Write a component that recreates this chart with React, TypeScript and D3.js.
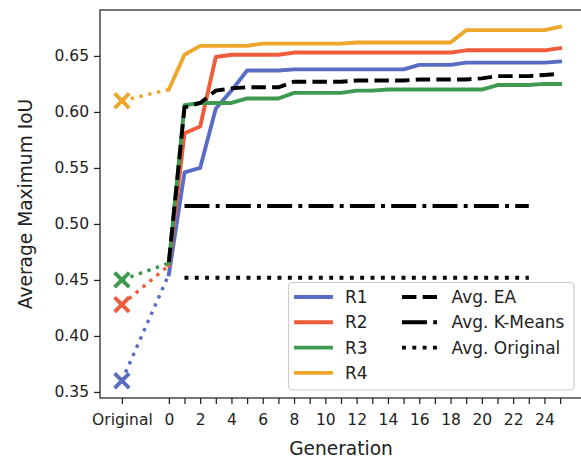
import React, { useEffect, useRef } from 'react';
import * as d3 from 'd3';

// generations on the x axis; "Original" sits at -3
const generations = [0, 1, 2, 3, 4, 5, 6, 7, 8, 9, 10, 11, 12, 13, 14, 15, 16, 17, 18, 19, 20, 21, 22, 23, 24, 25];
const r1Values = [0.455, 0.546, 0.550, 0.603, 0.619, 0.637, 0.637, 0.637, 0.638, 0.638, 0.638, 0.638, 0.638, 0.638, 0.638, 0.638, 0.642, 0.642, 0.642, 0.644, 0.644, 0.644, 0.644, 0.644, 0.644, 0.645];
const r2Values = [0.463, 0.581, 0.587, 0.649, 0.651, 0.651, 0.651, 0.651, 0.653, 0.653, 0.653, 0.653, 0.653, 0.653, 0.653, 0.653, 0.653, 0.653, 0.653, 0.655, 0.655, 0.655, 0.655, 0.655, 0.655, 0.657];
const r3Values = [0.465, 0.606, 0.608, 0.608, 0.608, 0.612, 0.612, 0.612, 0.617, 0.617, 0.617, 0.617, 0.619, 0.619, 0.620, 0.620, 0.620, 0.620, 0.620, 0.620, 0.620, 0.624, 0.624, 0.624, 0.625, 0.625];
const r4Values = [0.620, 0.651, 0.659, 0.659, 0.659, 0.659, 0.661, 0.661, 0.661, 0.661, 0.661, 0.661, 0.662, 0.662, 0.662, 0.662, 0.662, 0.662, 0.662, 0.673, 0.673, 0.673, 0.673, 0.673, 0.673, 0.676];
const eaAvgValues = [0.466, 0.604, 0.608, 0.619, 0.621, 0.622, 0.622, 0.622, 0.627, 0.627, 0.627, 0.627, 0.628, 0.628, 0.628, 0.628, 0.629, 0.629, 0.629, 0.629, 0.630, 0.632, 0.632, 0.632, 0.633, 0.634];
const originalScores = [0.36, 0.428, 0.45, 0.61];
const runNames = ['R1', 'R2', 'R3', 'R4'];
const runColors = ['#5A6DC4', '#EF5B3B', '#3D9A50', '#EEA62B'];
const kMeansAvg = 0.516;
const originalAvg = 0.452;
const baselineSpan = [1, 23];
const originalPos = -3;
const yTicks = [0.35, 0.40, 0.45, 0.50, 0.55, 0.60, 0.65];
const xTicks = [-3, 0, 1, 2, 3, 4, 5, 6, 7, 8, 9, 10, 11, 12, 13, 14, 15, 16, 17, 18, 19, 20, 21, 22, 23, 24, 25];

const W = 581;
const H = 460;
const FONT = 'DejaVu Sans, sans-serif';
const LW = 3.9;

const App = () => {
  const svgRef = useRef<SVGSVGElement | null>(null);

  useEffect(() => {
    const svg = d3.select(svgRef.current);
    svg.selectAll('*').remove();

    const left = 100, right = 582, top = 10, bottom = 398;
    const x = d3.scaleLinear().domain([-4.4, 26.4]).range([left, right]);
    const y = d3.scaleLinear().domain([0.3446, 0.691]).range([bottom, top]);

    const runs = [r1Values, r2Values, r3Values, r4Values];
    const line = d3.line<[number, number]>().x(d => x(d[0])).y(d => y(d[1]));
    const plot = svg.append('g');

    // run curves
    runs.forEach((vals, i) => {
      plot.append('path')
        .attr('d', line(generations.map((g, j) => [g, vals[j]] as [number, number])))
        .attr('fill', 'none')
        .attr('stroke', runColors[i])
        .attr('stroke-width', LW)
        .attr('stroke-linejoin', 'round')
        .attr('stroke-linecap', 'square');
    });

    // averages
    const dashed = (pts: [number, number][], dash: string) => plot.append('path')
      .attr('d', line(pts))
      .attr('fill', 'none')
      .attr('stroke', '#000')
      .attr('stroke-width', LW)
      .attr('stroke-dasharray', dash);

    dashed(generations.map((g, j) => [g, eaAvgValues[j]] as [number, number]), `${3.7 * LW} ${1.6 * LW}`);
    dashed(baselineSpan.map(g => [g, kMeansAvg] as [number, number]), `${6.4 * LW} ${1.6 * LW} ${1 * LW} ${1.6 * LW}`);
    dashed(baselineSpan.map(g => [g, originalAvg] as [number, number]), `${1 * LW} ${1.65 * LW}`);

    // original -> generation 0 connectors and x markers
    runs.forEach((vals, i) => {
      plot.append('path')
        .attr('d', line([[originalPos, originalScores[i]], [0, vals[0]]]))
        .attr('fill', 'none')
        .attr('stroke', runColors[i])
        .attr('stroke-width', 3.4)
        .attr('stroke-dasharray', `${3.4} ${3.4 * 1.65}`);
    });
    runs.forEach((_, i) => {
      const cx = x(originalPos), cy = y(originalScores[i]), r = 7.3;
      plot.append('path')
        .attr('d', `M${cx - r},${cy - r}L${cx + r},${cy + r}M${cx - r},${cy + r}L${cx + r},${cy - r}`)
        .attr('stroke', runColors[i])
        .attr('stroke-width', LW)
        .attr('fill', 'none');
    });

    // axes
    const xAxis = d3.axisBottom(x)
      .tickValues(xTicks)
      .tickSize(6)
      .tickPadding(10)
      .tickFormat(d => (d === originalPos ? 'Original' : (+d % 2 === 0 ? String(d) : '')));
    const yAxis = d3.axisLeft(y)
      .tickValues(yTicks)
      .tickSize(6)
      .tickPadding(5)
      .tickFormat(d3.format('.2f'));

    const styleAxis = (g: any) => g
      .call((g: any) => g.select('.domain').remove())
      .call((g: any) => g.selectAll('.tick line').attr('stroke', '#222').attr('stroke-width', 1.25))
      .call((g: any) => g.selectAll('.tick text')
        .attr('fill', '#222')
        .style('font-family', FONT)
        .style('font-size', '15.5px'));

    svg.append('g').attr('transform', `translate(0,${bottom})`).call(xAxis).call(styleAxis);
    svg.append('g').attr('transform', `translate(${left},0)`).call(yAxis).call(styleAxis);

    // spines
    svg.append('rect')
      .attr('x', left).attr('y', top)
      .attr('width', right - left).attr('height', bottom - top)
      .attr('fill', 'none').attr('stroke', '#222').attr('stroke-width', 1.25);

    // axis titles
    svg.append('text')
      .attr('x', (left + right) / 2).attr('y', 455)
      .attr('text-anchor', 'middle')
      .style('font-family', FONT).style('font-size', '18.6px').attr('fill', '#222')
      .text('Generation');
    svg.append('text')
      .attr('transform', `translate(32,${(top + bottom) / 2}) rotate(-90)`)
      .attr('text-anchor', 'middle')
      .style('font-family', FONT).style('font-size', '18.6px').attr('fill', '#222')
      .text('Average Maximum IoU');

    // legend
    const lg = svg.append('g');
    lg.append('rect')
      .attr('x', 288.5).attr('y', 282.5).attr('width', 285.5).attr('height', 107.5)
      .attr('rx', 4)
      .attr('fill', '#fff').attr('fill-opacity', 0.8)
      .attr('stroke', '#cccccc').attr('stroke-width', 1.2);

    const rowY = (i: number) => 297 + i * 25.3;
    runNames.forEach((name, i) => {
      lg.append('line')
        .attr('x1', 296).attr('x2', 331).attr('y1', rowY(i)).attr('y2', rowY(i))
        .attr('stroke', runColors[i]).attr('stroke-width', LW).attr('stroke-linecap', 'square');
      lg.append('text')
        .attr('x', 345).attr('y', rowY(i) + 6)
        .style('font-family', FONT).style('font-size', '17px').attr('fill', '#222')
        .text(name);
    });
    const avgEntries = [
      { label: 'Avg. EA', dash: `${3.7 * LW} ${1.6 * LW}` },
      { label: 'Avg. K-Means', dash: `${6.4 * LW} ${1.6 * LW} ${1 * LW} ${1.6 * LW}` },
      { label: 'Avg. Original', dash: `${1 * LW} ${1.65 * LW}` },
    ];
    avgEntries.forEach((e, i) => {
      lg.append('line')
        .attr('x1', 402).attr('x2', 437).attr('y1', rowY(i)).attr('y2', rowY(i))
        .attr('stroke', '#000').attr('stroke-width', LW).attr('stroke-dasharray', e.dash);
      lg.append('text')
        .attr('x', 451.5).attr('y', rowY(i) + 6)
        .style('font-family', FONT).style('font-size', '17px').attr('fill', '#222')
        .text(e.label);
    });
  }, []);

  return (
    <svg
      ref={svgRef}
      width={W}
      height={H}
      viewBox={`0 0 ${W} ${H}`}
      style={{ position: 'absolute', left: 0, top: 0, background: '#fff' }}
    />
  );
};

export default App;
